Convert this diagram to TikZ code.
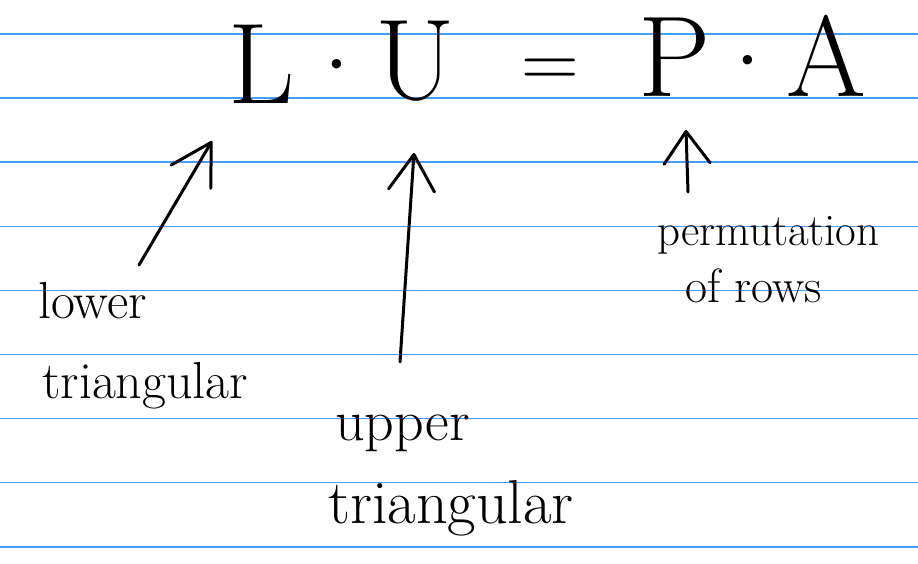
\documentclass[tikz,border=0pt]{standalone}
\usepackage{fontspec}
\usepackage{tikz}
\usetikzlibrary{arrows.meta}
\usepackage{xcolor}
\definecolor{ruleblue}{RGB}{64,160,255}

\begin{document}
\begin{tikzpicture}[
    x=1pt, y=-1pt,
    rule/.style={draw=ruleblue, line width=1.4pt},
    sym/.style={anchor=base, inner sep=0pt, font=\fontsize{#1}{#1}\selectfont},
    note/.style={anchor=base west, inner sep=0pt, font=\fontsize{#1}{#1}\selectfont},
    arr/.style={-{Straight Barb[length=#1, width=46pt, round]}, line width=3pt, line cap=round},
]
    \useasboundingbox (0,0) rectangle (918,564);

    % ruled paper
    \foreach \i in {0,...,8}
        \draw[rule] (0,34+64.1*\i) -- (918,34+64.1*\i);

    % the equation
    \node[sym=115] (L) at (262,104) {L};
    \node[sym=115] (dotl) at (337,104) {·};
    \node[sym=115] (U) at (415,100) {U};
    \node[sym=80] (eq) at (550,88) {=};
    \node[sym=115] (P) at (675,97) {P};
    \node[sym=115] (dotr) at (748,100) {·};
    \node[sym=115] (A) at (826,97) {A};

    % labels
    \node[note=52] (lower1) at (38,318) {lower};
    \node[note=52] (lower2) at (42,398) {triangular};
    \node[note=58] (upper1) at (335,440) {upper};
    \node[note=62] (upper2) at (328,523) {triangular};
    \node[note=45] (perm1) at (657,245) {permutation};
    \node[note=48] (perm2) at (685,302) {of rows};

    % arrow ends
    \coordinate (ltail) at (139,265);
    \coordinate (ltip) at (212,141);
    \coordinate (utail) at (400,362);
    \coordinate (utip) at (414,153);
    \coordinate (ptail) at (688,192);
    \coordinate (ptip) at (686,130);

    % arrows
    \draw[arr=40pt] (ltail) -- (ltip);
    \draw[arr=36pt] (utail) -- (utip);
    \draw[arr=32pt] (ptail) -- (ptip);
\end{tikzpicture}
\end{document}
